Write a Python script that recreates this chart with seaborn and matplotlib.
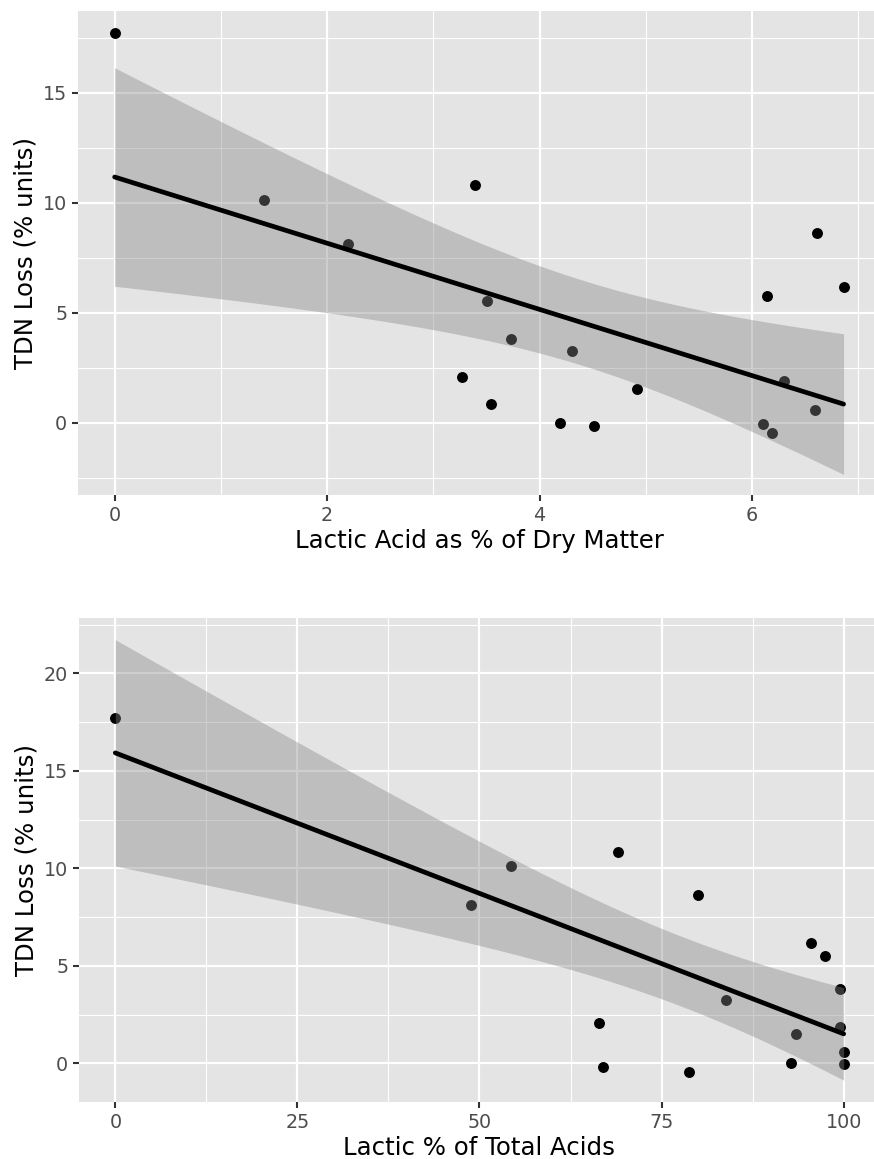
import math
import numpy as np
import pandas as pd
import matplotlib
matplotlib.use("Agg")
import matplotlib.pyplot as plt
import seaborn as sns
from matplotlib.ticker import FixedLocator

# ---------------- data ----------------
lactic_dm = [0.00, 1.41, 2.20, 3.39, 3.50, 3.73, 3.27, 3.54, 4.30, 4.19,
             4.51, 4.92, 6.14, 6.61, 6.86, 6.30, 6.59, 6.10, 6.19]
lactic_pct_total = [0.0, 54.3, 48.8, 69.0, 97.4, 99.45, 66.4, np.nan, 83.8, 92.7,
                    67.0, 93.5, np.nan, 80.0, 95.55, 99.45, 100.0, 100.0, 78.7]
tdn_loss = [17.72, 10.13, 8.13, 10.82, 5.52, 3.81, 2.06, 0.85, 3.26, 0.00,
            -0.17, 1.52, 5.78, 8.63, 6.18, 1.88, 0.58, -0.06, -0.47]

top_xticks = [0, 2, 4, 6]
top_yticks = [0, 5, 10, 15]
bottom_xticks = [0, 25, 50, 75, 100]
bottom_yticks = [0, 5, 10, 15, 20]

x_label_top = "Lactic Acid as % of Dry Matter"
x_label_bottom = "Lactic % of Total Acids"
y_label = "TDN Loss (% units)"

df = pd.DataFrame({"dm": lactic_dm, "pct": lactic_pct_total, "tdn": tdn_loss})

# ---------------- style ----------------
sns.set_theme(style="darkgrid")
plt.rcParams['font.family'] = ['DejaVu Sans']

PANEL = "#E4E4E4"
BAND = "#858585"
TICK_C = "#333333"
TICKLAB_C = "#4D4D4D"


def t_ppf975(dof):
    c = math.gamma((dof + 1) / 2) / (math.sqrt(dof * math.pi) * math.gamma(dof / 2))

    def cdf(t):
        g = np.linspace(0, t, 4001)
        pdf = c * (1 + g ** 2 / dof) ** (-(dof + 1) / 2)
        return 0.5 + np.trapezoid(pdf, g)

    lo, hi = 0.0, 10.0
    for _ in range(60):
        mid = (lo + hi) / 2
        if cdf(mid) < 0.975:
            lo = mid
        else:
            hi = mid
    return (lo + hi) / 2


def ci_band(x, y, grid):
    x = np.asarray(x, float)
    y = np.asarray(y, float)
    n = len(x)
    xm = x.mean()
    sxx = ((x - xm) ** 2).sum()
    b = ((x - xm) * (y - y.mean())).sum() / sxx
    a = y.mean() - b * xm
    resid = y - (a + b * x)
    s = math.sqrt((resid ** 2).sum() / (n - 2))
    se = s * np.sqrt(1 / n + (grid - xm) ** 2 / sxx)
    t = t_ppf975(n - 2)
    fit = a + b * grid
    return fit - t * se, fit + t * se


def draw_panel(ax, xcol, xlabel, xticks, xminor, yticks, yminor, xlim, ylim):
    d = df[[xcol, "tdn"]].dropna()
    ax.set_facecolor(PANEL)
    sns.scatterplot(data=d, x=xcol, y="tdn", ax=ax, color="black", s=62,
                    linewidth=0, zorder=2)
    grid = np.linspace(d[xcol].min(), d[xcol].max(), 80)
    lo, hi = ci_band(d[xcol], d["tdn"], grid)
    ax.fill_between(grid, lo, hi, color=BAND, alpha=0.4, lw=0, zorder=3)
    sns.regplot(data=d, x=xcol, y="tdn", ax=ax, scatter=False, ci=None,
                color="black", line_kws={"lw": 3.4, "zorder": 4})
    ax.set_xlim(*xlim)
    ax.set_ylim(*ylim)
    ax.xaxis.set_major_locator(FixedLocator(xticks))
    ax.yaxis.set_major_locator(FixedLocator(yticks))
    ax.xaxis.set_minor_locator(FixedLocator(xminor))
    ax.yaxis.set_minor_locator(FixedLocator(yminor))
    ax.set_xticklabels([str(v) for v in xticks])
    ax.set_yticklabels([str(v) for v in yticks])
    ax.grid(which="major", color="white", lw=1.6)
    ax.grid(which="minor", color="white", lw=0.8)
    ax.set_axisbelow(True)
    for sp in ax.spines.values():
        sp.set_visible(False)
    ax.tick_params(which="major", length=4.3, width=1.5, color=TICK_C,
                   labelcolor=TICKLAB_C, labelsize=13.8, pad=3.5,
                   bottom=True, left=True)
    ax.tick_params(which="minor", length=0)
    ax.set_xlabel(xlabel, fontsize=17.6, color="black", labelpad=3)
    ax.set_ylabel(y_label, fontsize=17.6, color="black", labelpad=4)


fig = plt.figure(figsize=(8.74, 11.59), dpi=100)
fig.patch.set_facecolor("white")

ax1 = fig.add_axes([0.08947, 0.57265, 0.9174, 0.41760])
draw_panel(ax1, "dm", x_label_top, top_xticks, [1, 3, 5, 7],
           top_yticks, [-2.5, 2.5, 7.5, 12.5, 17.5],
           (-0.343, 7.203), (-3.3, 18.7))

ax2 = fig.add_axes([0.09027, 0.04927, 0.9167, 0.41743])
draw_panel(ax2, "pct", x_label_bottom, bottom_xticks, [12.5, 37.5, 62.5, 87.5],
           bottom_yticks, [2.5, 7.5, 12.5, 17.5, 22.5],
           (-5, 105), (-1.98, 22.83))

fig.savefig("out.png", dpi=100)
